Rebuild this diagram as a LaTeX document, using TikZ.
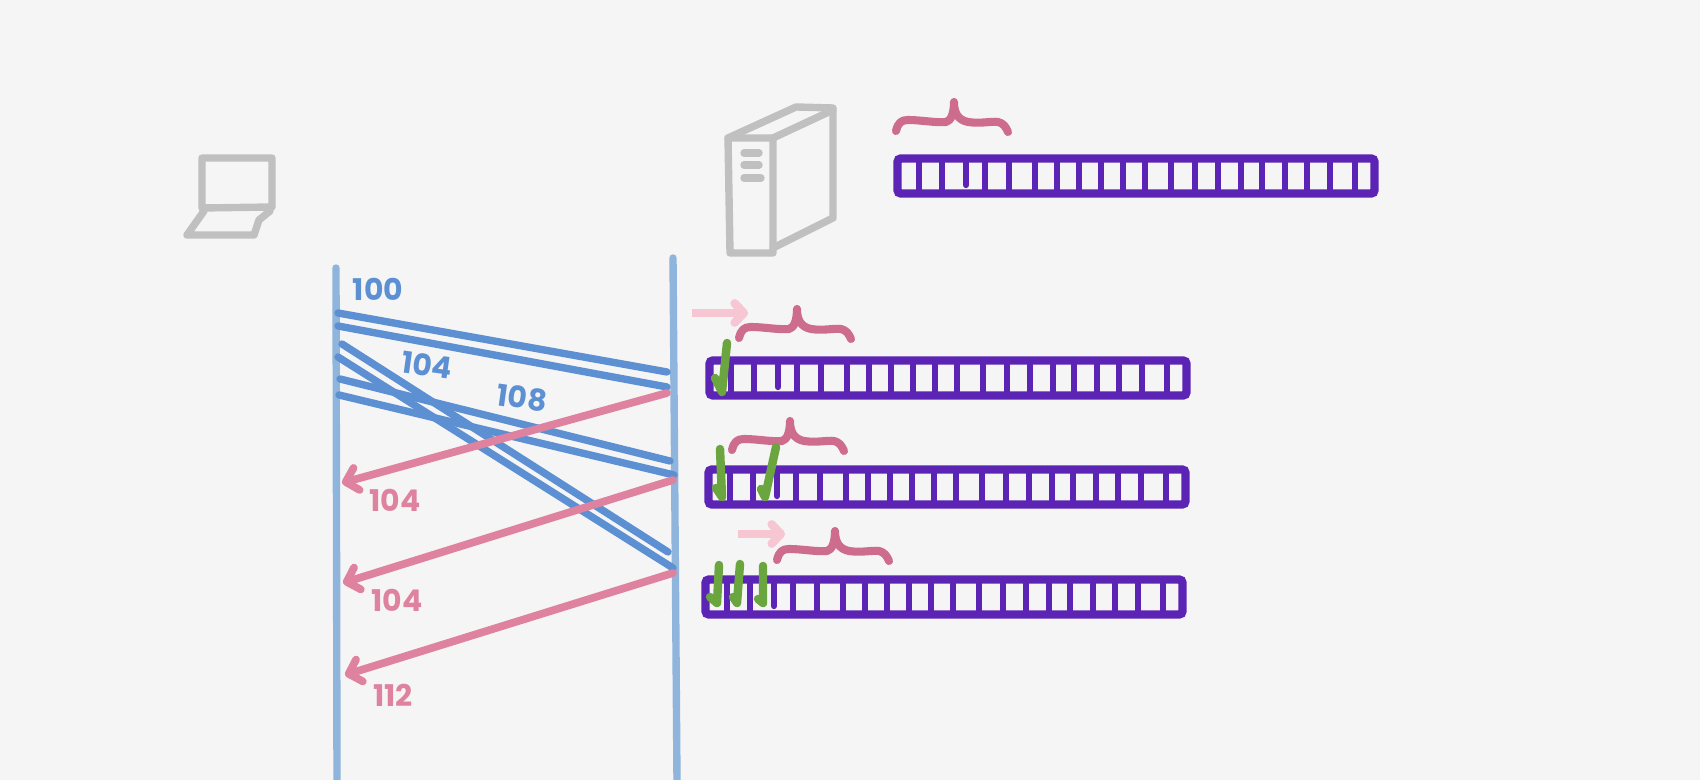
\documentclass[tikz,border=0pt]{standalone}
\usepackage{fontspec}
\setmainfont{Poppins}
\usepackage{xcolor}
\definecolor{seqpaper}{RGB}{245, 245, 245}
\definecolor{seqgray}{RGB}{192, 192, 192}
\definecolor{seqline}{RGB}{143, 181, 220}
\definecolor{seqblue}{RGB}{92, 144, 210}
\definecolor{seqpink}{RGB}{222, 130, 160}
\definecolor{seqrose}{RGB}{206, 108, 142}
\definecolor{seqlight}{RGB}{246, 198, 210}
\definecolor{seqpurple}{RGB}{92, 36, 180}
\definecolor{seqgreen}{RGB}{107, 165, 63}
\usetikzlibrary{arrows.meta}

\tikzset{
    pics/seqbar/.style={code={
        \draw[barframe] (3.5, 3.5) rectangle (480.5, 38.5);
        \foreach \dx in {25, 48, 91, 115, 141, 163, 185, 207, 229, 251, 277, 301, 324, 347, 368, 391, 413, 436, 461} {
            \draw[barcell] (\dx, 4) -- (\dx, 38);
        }
        \draw[barcell, line cap=round] (72, 4) -- (72, 30);
    }},
    pics/seqbrace/.style={code={
        \draw[windowbrace] (0, 0) .. controls (2, -8) and (5, -11) .. (12, -11)
            .. controls (25, -11) and (40, -8) .. (50, -9)
            .. controls (55, -10) and (58, -18) .. (58, -29)
            .. controls (58, -18) and (62, -11) .. (72, -9)
            .. controls (85, -7) and (95, -10) .. (102, -9)
            .. controls (107, -8) and (110, -4) .. (112, 1);
    }}
}

\begin{document}
\begin{tikzpicture}[
    x=0.01cm, y=-0.01cm,
    sketch/.style={seqgray, line width=2.1pt, line cap=round, line join=round},
    lifeline/.style={seqline, line width=2.1pt, line cap=round},
    sent/.style={seqblue, line width=2.1pt, line cap=round},
    acked/.style={seqpink, line width=2.2pt, line cap=round,
        -{Straight Barb[round, length=3.2pt, width=6.5pt]}},
    slide/.style={seqlight, line width=2.4pt,
        -{Straight Barb[round, length=2.6pt, width=5.5pt]}},
    barframe/.style={seqpurple, line width=2.4pt, rounded corners=1pt},
    barcell/.style={seqpurple, line width=1.8pt},
    windowbrace/.style={seqrose, line width=2.3pt, line cap=round, line join=round},
    tickmark/.style={seqgreen, line width=2.4pt, line cap=round, line join=round},
    sentlabel/.style={seqblue, font=\bfseries\fontsize{8.5}{10}\selectfont},
    acklabel/.style={seqpink, font=\bfseries\fontsize{8.5}{10}\selectfont}
]

\useasboundingbox (0, 0) rectangle (1700, 780);
\fill[seqpaper] (0, 0) rectangle (1700, 780);

% === Laptop ===
\draw[sketch] (202, 158) -- (272, 158) -- (272, 207) -- (202, 208) -- cycle;
\draw[sketch] (204, 211) -- (187, 235) -- (254, 235) -- (259, 220) -- (270, 211);

% === Server ===
\draw[sketch] (728, 138) -- (773, 138) -- (773, 253) -- (730, 253) -- cycle;
\draw[sketch] (728, 138) -- (796, 107) -- (833, 108) -- (833, 218) -- (773, 248);
\draw[sketch] (773, 138) -- (833, 110);
\draw[sketch] (744, 153) -- (759, 153);
\draw[sketch] (744, 165) -- (759, 165);
\draw[sketch] (744, 178) -- (761, 178);

% === Lifelines ===
\coordinate (clienttop) at (336, 268);
\coordinate (clientend) at (337, 782);
\coordinate (servertop) at (673, 258);
\coordinate (serverend) at (677, 782);
\draw[lifeline] (clienttop) -- (clientend);
\draw[lifeline] (servertop) -- (serverend);

% === Segments sent ===
\coordinate (cA) at (338, 313);
\coordinate (sA) at (667, 372);
\coordinate (cB) at (338, 326);
\coordinate (sB) at (667, 387);
\coordinate (cC) at (342, 344);
\coordinate (sC) at (668, 552);
\coordinate (cD) at (338, 357);
\coordinate (sD) at (673, 568);
\coordinate (cE) at (340, 379);
\coordinate (sE) at (670, 461);
\coordinate (cF) at (339, 395);
\coordinate (sF) at (674, 475);
\draw[sent] (cA) -- (sA);
\draw[sent] (cB) -- (sB);
\draw[sent] (cC) -- (sC);
\draw[sent] (cD) -- (sD);
\draw[sent] (cE) -- (sE);
\draw[sent] (cF) -- (sF);

% === Acks ===
\coordinate (ackAs) at (667, 393);
\coordinate (ackAc) at (342, 483);
\coordinate (ackBs) at (673, 480);
\coordinate (ackBc) at (343, 583);
\coordinate (ackCs) at (673, 573);
\coordinate (ackCc) at (345, 675);
\draw[acked] (ackAs) -- (ackAc);
\draw[acked] (ackBs) -- (ackBc);
\draw[acked] (ackCs) -- (ackCc);

% === Labels ===
\node[sentlabel] (seqA) at (378, 289) {100};
\node[sentlabel, rotate=-8] (seqB) at (427, 365) {104};
\node[sentlabel, rotate=-8] (seqC) at (522, 398) {108};
\node[acklabel] (ackA) at (395, 500) {104};
\node[acklabel] (ackB) at (397, 600) {104};
\node[acklabel] (ackC) at (393, 695) {112};

% === Windows ===
\pic at (894, 155) {seqbar};
\pic at (706, 357) {seqbar};
\pic at (705, 466) {seqbar};
\pic at (702, 576) {seqbar};

\pic at (896, 131) {seqbrace};
\pic at (739, 338) {seqbrace};
\pic at (732, 450) {seqbrace};
\pic at (777, 560) {seqbrace};

% window moves right
\coordinate (slideAa) at (692, 313);
\coordinate (slideAb) at (748, 313);
\coordinate (slideBa) at (738, 534);
\coordinate (slideBb) at (785, 534);
\draw[slide] (slideAa) -- (slideAb);
\draw[slide] (slideBa) -- (slideBb);

% === Ticks ===
\draw[tickmark] (715, 378) -- (722, 392) -- (727, 343);
\draw[tickmark] (716, 488) -- (722, 497) -- (720, 449);
\draw[tickmark] (761, 489) -- (765, 497) -- (776, 447);
\draw[tickmark] (710, 597) -- (717, 603) -- (719, 565);
\draw[tickmark] (733, 597) -- (737, 603) -- (740, 564);
\draw[tickmark] (758, 599) -- (763, 603) -- (763, 566);

\end{tikzpicture}
\end{document}
